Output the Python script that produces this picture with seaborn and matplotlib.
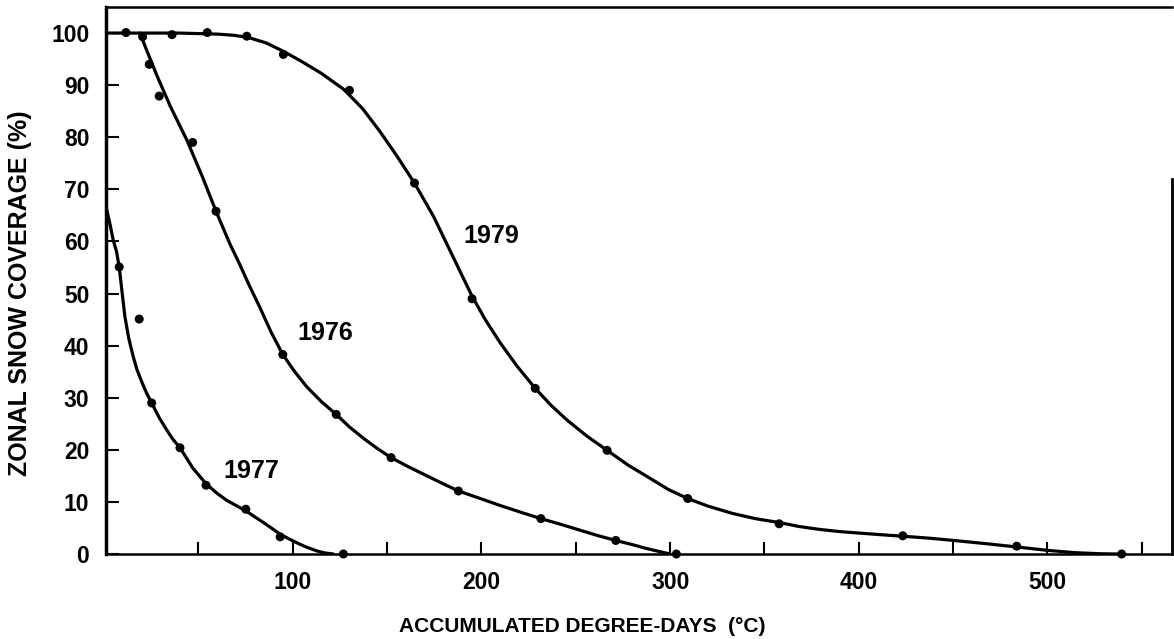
import numpy as np
import pandas as pd
import matplotlib
matplotlib.use('Agg')
import matplotlib.pyplot as plt
import seaborn as sns

curve_1979_x = [1, 20, 40, 60, 68, 76, 86, 95, 104, 115, 127, 137, 146, 155, 164.5, 174.6,
                185, 195, 202, 210, 219, 228.5, 237, 245.4, 256, 266.6, 278, 289.5, 299,
                309.3, 320, 333, 345, 358.5, 368, 379.7, 390, 400.9, 412, 424, 437, 450.4,
                467, 483.7, 500, 515, 528, 537]
curve_1979_y = [100, 100, 100, 99.8, 99.6, 99.2, 98.1, 96.5, 94.7, 92.3, 89.2, 85.5, 81.2,
                76.5, 71.2, 64.8, 57, 49.5, 45, 40.5, 36, 31.8, 28.5, 25.7, 22.6, 19.9,
                17.0, 14.5, 12.4, 10.65, 9.2, 7.8, 6.8, 6.0, 5.3, 4.7, 4.3, 4.0, 3.7, 3.4,
                3.05, 2.6, 2.0, 1.35, 0.7, 0.25, 0.05, 0]

curve_1976_x = [19, 22, 27.8, 35, 43.8, 52, 59.3, 66.7, 72, 77, 82.6, 88.5, 94.7, 101,
                107.4, 115, 123, 130, 137.5, 145, 152.1, 161, 170, 179, 187.8, 199, 210,
                221, 231.5, 242, 252, 262, 271.2, 280, 287, 294, 300]
curve_1976_y = [100, 97.2, 92, 86, 79.5, 72.5, 65.8, 59.5, 55.5, 51.5, 47.3, 42.6, 38.3,
                35, 32.1, 29.3, 26.8, 24.4, 22.2, 20.2, 18.5, 16.8, 15.2, 13.6, 12.1,
                10.7, 9.3, 8, 6.8, 5.7, 4.6, 3.5, 2.6, 1.8, 1.1, 0.5, 0]

curve_1977_x = [1, 3, 4.8, 6.6, 8, 9.5, 11, 13, 15.4, 17.5, 20, 22.5, 25.2, 29, 33.2, 36.5,
                40.2, 47, 54, 60, 65, 70, 75.1, 80, 85, 89, 93.3, 98, 103, 107.4, 112.7,
                117, 121.5]
curve_1977_y = [66.7, 63.5, 60.3, 58, 55.1, 50.3, 45.6, 41.5, 37.9, 35.3, 33, 30.9, 29.0,
                26.3, 23.8, 22, 20.4, 16.5, 13.5, 11.6, 10.3, 9.3, 8.3, 7.1, 5.9, 4.9,
                3.8, 2.9, 2.0, 1.3, 0.6, 0.2, 0]

dots_1979_x = [11.6, 36, 54.7, 75.6, 95, 130, 164.5, 195, 228.5, 266.6, 309.3, 357.8,
               423.3, 483.7, 539.3]
dots_1979_y = [100.1, 99.7, 100.1, 99.4, 95.9, 89.0, 71.2, 49, 31.8, 19.9, 10.65, 5.8,
               3.5, 1.5, 0]

dots_1976_x = [20.4, 23.9, 29.2, 46.9, 59.3, 94.7, 123, 152.1, 187.8, 231.5, 271.2, 303.3]
dots_1976_y = [99.3, 94.0, 87.9, 79.0, 65.8, 38.3, 26.8, 18.5, 12.1, 6.8, 2.6, 0]

dots_1977_x = [8, 18.6, 25.2, 40.2, 54, 75.1, 93.3, 126.8]
dots_1977_y = [55.1, 45.1, 29.0, 20.4, 13.2, 8.6, 3.3, 0]

years = ['1979', '1976', '1977']
label_x = [205, 117.4, 77.9]
label_y = [61, 42.5, 15.9]

x_ticks = [50, 100, 150, 200, 250, 300, 350, 400, 450, 500, 550]
x_tick_labels = ['', '100', '', '200', '', '300', '', '400', '', '500', '']
y_ticks = [0, 10, 20, 30, 40, 50, 60, 70, 80, 90, 100]

sns.set_theme(style='ticks')
plt.rcParams['font.family'] = ['Liberation Sans', 'DejaVu Sans']
plt.rcParams['font.weight'] = 'bold'
plt.rcParams['text.color'] = 'black'
plt.rcParams['axes.labelcolor'] = 'black'
plt.rcParams['xtick.color'] = 'black'
plt.rcParams['ytick.color'] = 'black'

fig = plt.figure(figsize=(11.74, 6.39), dpi=100)
ax = fig.add_axes([0.0903, 0.133, 0.908, 0.856])

curves = {
    '1979': (curve_1979_x, curve_1979_y),
    '1976': (curve_1976_x, curve_1976_y),
    '1977': (curve_1977_x, curve_1977_y),
}
dots = {
    '1979': (dots_1979_x, dots_1979_y),
    '1976': (dots_1976_x, dots_1976_y),
    '1977': (dots_1977_x, dots_1977_y),
}

for yr in years:
    cx, cy = curves[yr]
    sns.lineplot(x=cx, y=cy, ax=ax, color='black', linewidth=2.3, sort=False,
                 estimator=None)
    dx, dy = dots[yr]
    sns.scatterplot(x=dx, y=dy, ax=ax, color='black', s=42, edgecolor='none',
                    clip_on=False, zorder=3)

for yr, lx, ly in zip(years, label_x, label_y):
    ax.text(lx, ly, yr, fontsize=18, fontweight='bold', ha='center', va='center',
            color='black')

ax.set_xlim(1, 566)
ax.set_ylim(0, 105)
ax.set_xticks(x_ticks)
ax.set_xticklabels(x_tick_labels)
ax.set_yticks(y_ticks)
ax.tick_params(axis='both', direction='in', length=9, width=1.5, labelsize=16.5,
               colors='black')
ax.tick_params(axis='x', pad=12)
ax.tick_params(axis='y', pad=12)
for lab in ax.get_xticklabels() + ax.get_yticklabels():
    lab.set_fontweight('bold')

for side in ['left', 'bottom', 'top', 'right']:
    ax.spines[side].set_visible(True)
    ax.spines[side].set_color('black')
ax.spines['left'].set_linewidth(2.5)
ax.spines['bottom'].set_linewidth(1.8)
ax.spines['top'].set_linewidth(1.8)
ax.spines['right'].set_linewidth(2.0)
ax.spines['right'].set_bounds(0, 72)

ax.set_xlabel('ACCUMULATED DEGREE-DAYS  (°C)', fontsize=15, fontweight='bold',
              color='black')
ax.xaxis.set_label_coords(0.447, -0.115)
ax.set_ylabel('ZONAL SNOW COVERAGE (%)', fontsize=18, fontweight='bold', color='black')
ax.yaxis.set_label_coords(-0.069, 0.477)

fig.savefig('out.png', dpi=100)
